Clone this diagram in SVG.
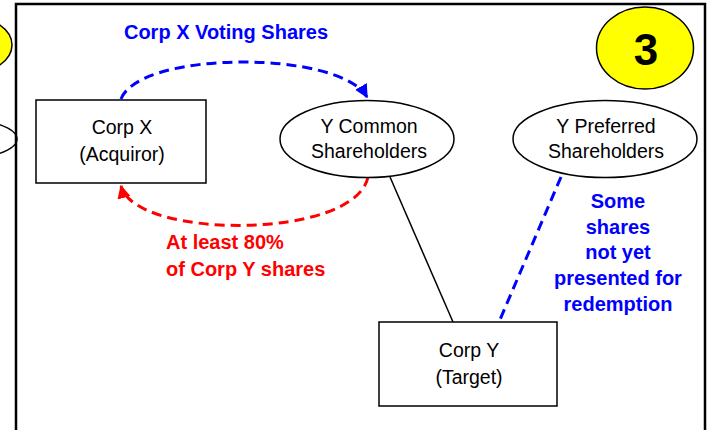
<svg xmlns="http://www.w3.org/2000/svg" width="712" height="430" viewBox="0 0 712 430">
<style>
.box{fill:#fff;stroke:#000;stroke-width:1.5}
.t{font-family:"Liberation Sans",Arial,sans-serif;font-size:19.5px;text-anchor:middle;fill:#000}
.b{font-family:"Liberation Sans",Arial,sans-serif;font-size:20px;font-weight:bold;text-anchor:middle}
.blue{fill:#0000ff}
.red{fill:#ff0000}
.left{text-anchor:start}
</style>
<defs>
<marker id="ab" viewBox="0 0 10 10" refX="9" refY="5" markerWidth="4.5" markerHeight="4.5" orient="auto" markerUnits="strokeWidth"><path d="M0,0 L10,5 L0,10 z" fill="#0000ff"/></marker>
<marker id="ar" viewBox="0 0 10 10" refX="9" refY="5" markerWidth="4.5" markerHeight="4.5" orient="auto" markerUnits="strokeWidth"><path d="M0,0 L10,5 L0,10 z" fill="#ff0000"/></marker>
</defs>
<rect width="712" height="430" fill="#fff"/>
<g id="prev-slide">
<ellipse cx="-36" cy="45" rx="48" ry="30" fill="#ffff00" stroke="#000" stroke-width="1.5"/>
<ellipse cx="-70" cy="139" rx="87" ry="24" fill="#fff" stroke="#000" stroke-width="1.5"/>
</g>
<g id="frame" fill="none" stroke="#000" stroke-width="2.5">
<path d="M16,430 V4 H705 V430"/>
</g>
<g id="badge">
<ellipse cx="645" cy="48" rx="48.5" ry="41" fill="#ffff00" stroke="#000" stroke-width="1.5"/>
<text x="646" y="65" font-family="Liberation Sans,Arial,sans-serif" font-size="44" font-weight="bold" text-anchor="middle">3</text>
</g>
<g id="connectors">
<path d="M121,99 C140,50 340,50 367,97" fill="none" stroke="#0000ff" stroke-width="3" stroke-dasharray="10,6" marker-end="url(#ab)"/>
<path d="M368,177 C355,240 135,240 121,186" fill="none" stroke="#ff0000" stroke-width="3" stroke-dasharray="10,6" marker-end="url(#ar)"/>
<line x1="390" y1="177" x2="453" y2="322" stroke="#000" stroke-width="1.5"/>
<line x1="561" y1="177" x2="499" y2="322" stroke="#0000ff" stroke-width="3" stroke-dasharray="10,6"/>
</g>
<g id="corp-x">
<rect class="box" x="36" y="100" width="170" height="83"/>
<text class="t" x="122" y="134">Corp X</text>
<text class="t" x="122" y="161">(Acquiror)</text>
</g>
<g id="y-common">
<ellipse class="box" cx="367" cy="139" rx="87" ry="38.5"/>
<text class="t" x="369" y="133">Y Common</text>
<text class="t" x="369" y="158">Shareholders</text>
</g>
<g id="y-preferred">
<ellipse class="box" cx="605" cy="139" rx="92" ry="38.5"/>
<text class="t" x="606" y="133">Y Preferred</text>
<text class="t" x="606" y="158">Shareholders</text>
</g>
<g id="corp-y">
<rect class="box" x="379" y="322" width="178" height="84"/>
<text class="t" x="469" y="357">Corp Y</text>
<text class="t" x="469" y="384">(Target)</text>
</g>
<g id="labels">
<text class="b blue" x="226" y="39">Corp X Voting Shares</text>
<text class="b red left" x="166" y="249">At least 80%</text>
<text class="b red left" x="166" y="276">of Corp Y shares</text>
<text class="b blue" x="618" y="208">Some</text>
<text class="b blue" x="618" y="234">shares</text>
<text class="b blue" x="618" y="259">not yet</text>
<text class="b blue" x="618" y="285">presented for</text>
<text class="b blue" x="618" y="311">redemption</text>
</g>
</svg>
